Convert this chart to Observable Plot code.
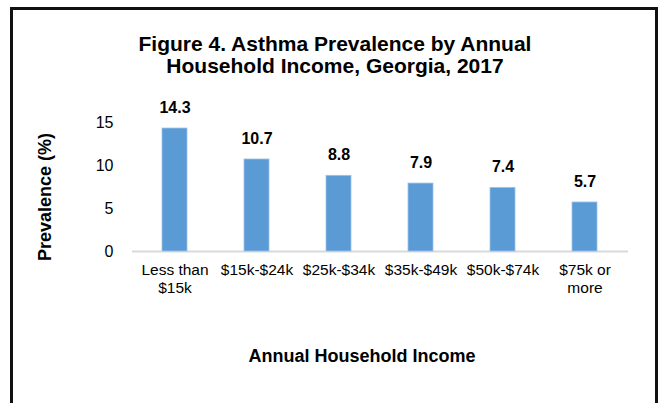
<!DOCTYPE html>
<html>
<head>
<meta charset="utf-8">
<script src="https://cdn.jsdelivr.net/npm/d3@7"></script>
<script src="https://cdn.jsdelivr.net/npm/@observablehq/plot@0.6"></script>
<style>
  html, body { margin: 0; padding: 0; background: #fff; overflow: hidden; }
  #wrap { position: relative; width: 663px; height: 403px; font-family: "Liberation Sans", Arial, sans-serif; }
  #frame { position: absolute; left: 10px; top: 7px; width: 642px; height: 460px; border: 3px solid #111; box-sizing: content-box; }
  #chart { position: absolute; left: 0; top: 0; }
  .t { position: absolute; font-weight: bold; color: #000; white-space: nowrap; }
  #title { left: 0; width: 670px; top: 33px; text-align: center; font-size: 21px; line-height: 22px; }
  #xtitle { left: 0; width: 724px; top: 346px; text-align: center; font-size: 18px; }
  #ytitle { left: 45px; top: 197px; font-size: 18px; transform: translate(-50%, -50%) rotate(-90deg); }
</style>
</head>
<body>
<div id="wrap">
  <div id="frame"></div>
  <div id="chart"></div>
  <div class="t" id="title">Figure 4. Asthma Prevalence by Annual<br>Household Income, Georgia, 2017</div>
  <div class="t" id="ytitle">Prevalence (%)</div>
  <div class="t" id="xtitle">Annual Household Income</div>
</div>
<script>
const categories = ["Less than\n$15k", "$15k-$24k", "$25k-$34k", "$35k-$49k", "$50k-$74k", "$75k or\nmore"];
const prevalence = [14.3, 10.7, 8.8, 7.9, 7.4, 5.7];
const yTicks = [0, 5, 10, 15];

const data = categories.map((c, i) => ({category: c, value: prevalence[i]}));

const chart = Plot.plot({
  width: 663,
  height: 403,
  marginLeft: 132,
  marginRight: 35,
  marginTop: 122,
  marginBottom: 152,
  style: {fontFamily: "'Liberation Sans', Arial, sans-serif", background: "transparent", color: "#000"},
  x: {domain: categories, paddingInner: 0.69, paddingOuter: 0.345, label: null},
  y: {domain: [0, 15], label: null},
  marks: [
    Plot.axisY({ticks: yTicks, tickSize: 0, tickPadding: 19, fontSize: 16, label: null, fill: "#000"}),
    Plot.axisX({tickSize: 0, tickPadding: 10, fontSize: 15.5, lineHeight: 1.2, label: null, fill: "#000"}),
    Plot.ruleY([0], {stroke: "#d9d9d9", strokeWidth: 2}),
    Plot.barY(data, {x: "category", y: "value", fill: "#5b9bd5", stroke: "#9dc3e6", strokeWidth: 0.8}),
    Plot.text(data, {x: "category", y: "value", text: d => d.value.toFixed(1), dy: -21, fontSize: 16, fontWeight: "bold", fill: "#000"})
  ]
});
document.getElementById("chart").appendChild(chart);
</script>
</body>
</html>
